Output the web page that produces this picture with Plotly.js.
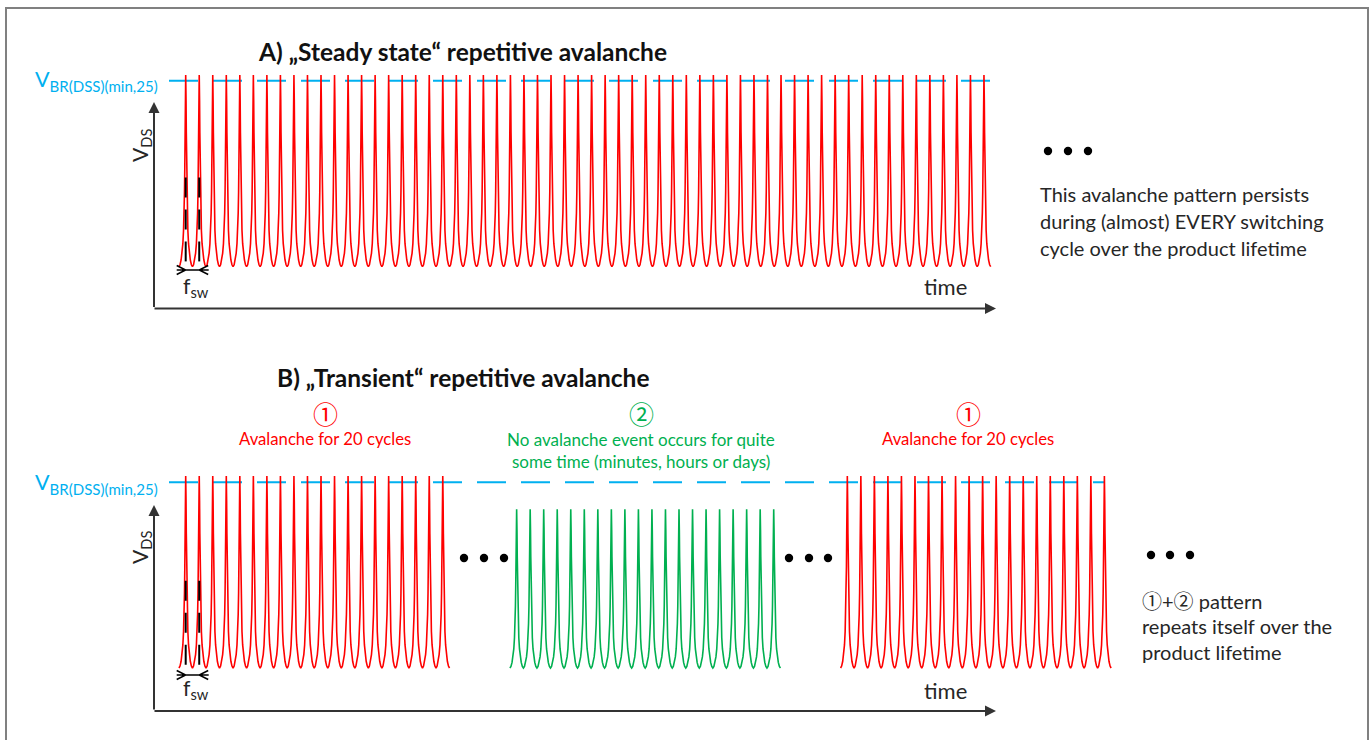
<!DOCTYPE html>
<html>
<head>
<meta charset="utf-8">
<script src="https://cdn.plot.ly/plotly-3.0.1.min.js"></script>
<style>html,body{margin:0;padding:0;background:#fff;}#chart{width:1370px;height:740px;}</style>
</head>
<body>
<div id="chart"></div>
<script>
// ---------------- data ----------------
// Panel A: steady-state repetitive avalanche
const cyclesA = 60;                 // switching cycles drawn
const peakA = 1.03;                 // clamped peak, relative to V_BR(DSS)
// Panel B: transient repetitive avalanche, three groups of pulses
const groupNamesB = ['Avalanche (1)', 'No avalanche (2)', 'Avalanche (1)'];
const groupFirstCycleB = [0, 24.46, 48.9];
const groupCyclesB = [20, 20, 20];
const groupPeakB = [1.034, 0.855, 1.034];
// one switching period: phase offset from the peak and fraction of peak level
const pulsePhase = [-0.5, -0.42, -0.34, -0.27, -0.21, -0.16, -0.12, -0.09, -0.065, -0.045, -0.025, -0.01, 0,
                    0.01, 0.025, 0.045, 0.065, 0.09, 0.12, 0.16, 0.21, 0.27, 0.34, 0.42, 0.5];
const pulseLevel = [0, 0.01, 0.035, 0.07, 0.12, 0.19, 0.28, 0.39, 0.53, 0.7, 0.87, 0.97, 1,
                    0.97, 0.87, 0.7, 0.53, 0.39, 0.28, 0.19, 0.12, 0.07, 0.035, 0.01, 0];
const vbrLevel = 1;                 // V_BR(DSS)(min,25)
const fswCycles = [0, 1];           // cycles marked with the f_sw dimension
const fswMarkTop = [0.48, 0.47];    // top of the dashed markers (A, B)

// ---------------- layout helpers (pixel geometry) ----------------
const W = 1370, H = 740;
const PX = p => p / W;
const PY = p => 1 - p / H;
const periodPx = 13.53, t0Px = 185.7;
const tOf = px => (px - t0Px) / periodPx;

const RED = '#ff0000', GREEN = '#00b050', BLUE = '#00b0f0', INK = '#262626', AX = '#333333';
const FONT = "Lato, 'DejaVu Sans', 'Noto Sans CJK SC', sans-serif";
const CIRC = "'Noto Sans CJK SC', 'DejaVu Sans', sans-serif";

function wave(first, n, peak) {
  const xs = [], ys = [];
  for (let k = 0; k < n; k++) {
    for (let j = (k === 0 ? 0 : 1); j < pulsePhase.length; j++) {
      xs.push(first + k + pulsePhase[j]);
      ys.push(peak * pulseLevel[j]);
    }
  }
  return {x: xs, y: ys};
}

const traces = [];
// blue V_BR lines
traces.push({x: [tOf(169), tOf(990)], y: [vbrLevel, vbrLevel], xaxis: 'x', yaxis: 'y', mode: 'lines',
  line: {color: BLUE, width: 2, dash: '29px,15px'}, hoverinfo: 'skip', showlegend: false});
traces.push({x: [tOf(169), tOf(1105)], y: [vbrLevel, vbrLevel], xaxis: 'x2', yaxis: 'y2', mode: 'lines',
  line: {color: BLUE, width: 2, dash: '29px,15px'}, hoverinfo: 'skip', showlegend: false});
// panel A waveform
const wa = wave(0, cyclesA, peakA);
traces.push({x: wa.x, y: wa.y, xaxis: 'x', yaxis: 'y', mode: 'lines', name: 'Steady state',
  line: {color: RED, width: 1.6}, showlegend: false});
// panel B waveforms
const colorsB = [RED, GREEN, RED];
for (let g = 0; g < groupNamesB.length; g++) {
  const w = wave(groupFirstCycleB[g], groupCyclesB[g], groupPeakB[g]);
  traces.push({x: w.x, y: w.y, xaxis: 'x2', yaxis: 'y2', mode: 'lines', name: groupNamesB[g],
    line: {color: colorsB[g], width: 1.6}, showlegend: false});
}
// f_sw dashed markers
[['x', 'y', fswMarkTop[0]], ['x2', 'y2', fswMarkTop[1]]].forEach(([xa, ya, top]) => {
  fswCycles.forEach(c => {
    traces.push({x: [c, c], y: [top, -0.01], xaxis: xa, yaxis: ya, mode: 'lines',
      line: {color: '#000', width: 2, dash: '20px,12px'}, hoverinfo: 'skip', showlegend: false});
  });
});

const hidden = {showgrid: false, zeroline: false, showticklabels: false, showline: false, ticks: '', fixedrange: true};

const layout = {
  width: W, height: H,
  margin: {l: 0, r: 0, t: 0, b: 0},
  paper_bgcolor: '#fff', plot_bgcolor: 'rgba(0,0,0,0)',
  showlegend: false,
  xaxis: Object.assign({domain: [PX(150), PX(1000)], range: [tOf(150), tOf(1000)], anchor: 'y'}, hidden),
  yaxis: Object.assign({domain: [PY(312), PY(68)], range: [(266.7 - 312) / 186, (266.7 - 68) / 186], anchor: 'x'}, hidden),
  xaxis2: Object.assign({domain: [PX(150), PX(1120)], range: [tOf(150), tOf(1120)], anchor: 'y2'}, hidden),
  yaxis2: Object.assign({domain: [PY(715), PY(465)], range: [(668 - 715) / 185.7, (668 - 465) / 185.7], anchor: 'x2'}, hidden),
  shapes: [],
  annotations: []
};

// frame
layout.shapes.push({type: 'rect', xref: 'paper', yref: 'paper', x0: PX(6), x1: PX(1368), y0: PY(8), y1: PY(760),
  line: {color: '#808080', width: 2}, fillcolor: 'rgba(0,0,0,0)', layer: 'below'});

// f_sw dimension arrows (pixel paths anchored at cycle 0)
[['x', 'y', (266.7 - 270) / 186], ['x2', 'y2', (668 - 675) / 185.7]].forEach(([xa, ya, yv]) => {
  layout.shapes.push({type: 'path', xref: xa, yref: ya, xsizemode: 'pixel', ysizemode: 'pixel',
    xanchor: 0, yanchor: yv,
    path: 'M-9,0L23,0M-9,4.5L0,0L-9,-4.5M22.5,4.5L13.5,0L22.5,-4.5',
    line: {color: '#000', width: 1.5}});
});

// dots
const dotsPx = [[1048, 151], [1068, 151], [1088, 151],
                [464, 558], [484, 558], [504, 558],
                [789, 558], [809, 558], [828, 558],
                [1151, 555], [1170, 555], [1190, 555]];
dotsPx.forEach(([x, y]) => {
  layout.shapes.push({type: 'circle', xref: 'paper', yref: 'paper', xsizemode: 'pixel', ysizemode: 'pixel',
    xanchor: PX(x), yanchor: PY(y), x0: -4.2, x1: 4.2, y0: -4.2, y1: 4.2,
    fillcolor: '#000', line: {width: 0}});
});

// axis arrows
function arrow(tipX, tipY, tailX, tailY) {
  layout.annotations.push({xref: 'paper', yref: 'paper', x: PX(tipX), y: PY(tipY), text: '',
    showarrow: true, axref: 'pixel', ayref: 'pixel', ax: tailX - tipX, ay: tailY - tipY,
    arrowhead: 2, arrowsize: 1.1, arrowwidth: 2, arrowcolor: AX, standoff: 0});
}
arrow(996, 308.5, 153, 308.5);
arrow(154, 102, 154, 308.5);
arrow(996, 711, 153, 711);
arrow(154, 505, 154, 711);

function txt(text, x, y, opts) {
  layout.annotations.push(Object.assign({xref: 'paper', yref: 'paper', x: PX(x), y: PY(y), text: text,
    showarrow: false, xanchor: 'center', yanchor: 'middle',
    font: {family: FONT, size: 20, color: INK}}, opts || {}));
}
const circ = s => '<span style="font-family:\'Noto Sans CJK SC\',\'DejaVu Sans\',sans-serif">' + s + '</span>';

// titles
txt('<b>A) „Steady state“ repetitive avalanche</b>', 462, 52, {font: {family: FONT, size: 24.5, color: '#111'}});
txt('<b>B) „Transient“ repetitive avalanche</b>', 463, 377, {font: {family: FONT, size: 24.5, color: '#111'}});

// V_BR labels
[80, 483].forEach(y => txt('V<sub>BR(DSS)(min,25)</sub>', 160, y, {xanchor: 'right', font: {family: FONT, size: 21.5, color: BLUE}}));
// V_DS labels
[146, 548].forEach(y => txt('V<sub>DS</sub>', 141, y, {textangle: -90, font: {family: FONT, size: 21, color: INK}}));
// time labels
[287, 690].forEach(y => txt('time', 945, y, {font: {family: FONT, size: 22, color: INK}}));
// f_sw labels
[287, 689].forEach(y => txt('f<sub>sw</sub>', 196, y, {font: {family: FONT, size: 21, color: INK}}));

// right-hand notes
const notesA = ['This avalanche pattern persists', 'during (almost) EVERY switching', 'cycle over the product lifetime'];
notesA.forEach((s, i) => txt(s, 1038, 194 + 27 * i, {xanchor: 'left'}));
const notesB = [circ('①') + '+' + circ('②') + ' pattern', 'repeats itself over the', 'product lifetime'];
notesB.forEach((s, i) => txt(s, 1140, 600 + 26 * i, {xanchor: 'left'}));

// group captions in panel B
txt('①', 325, 413, {font: {family: CIRC, size: 25, color: RED}});
txt('Avalanche for 20 cycles', 325, 439, {font: {family: FONT, size: 16.7, color: RED}});
txt('②', 641, 413, {font: {family: CIRC, size: 25, color: GREEN}});
txt('No avalanche event occurs for quite', 641, 439, {font: {family: FONT, size: 17, color: GREEN}});
txt('some time (minutes, hours or days)', 641, 462, {font: {family: FONT, size: 17, color: GREEN}});
txt('①', 968, 413, {font: {family: CIRC, size: 25, color: RED}});
txt('Avalanche for 20 cycles', 968, 439, {font: {family: FONT, size: 16.7, color: RED}});

Plotly.newPlot('chart', traces, layout, {displayModeBar: false, staticPlot: true});
</script>
</body>
</html>
